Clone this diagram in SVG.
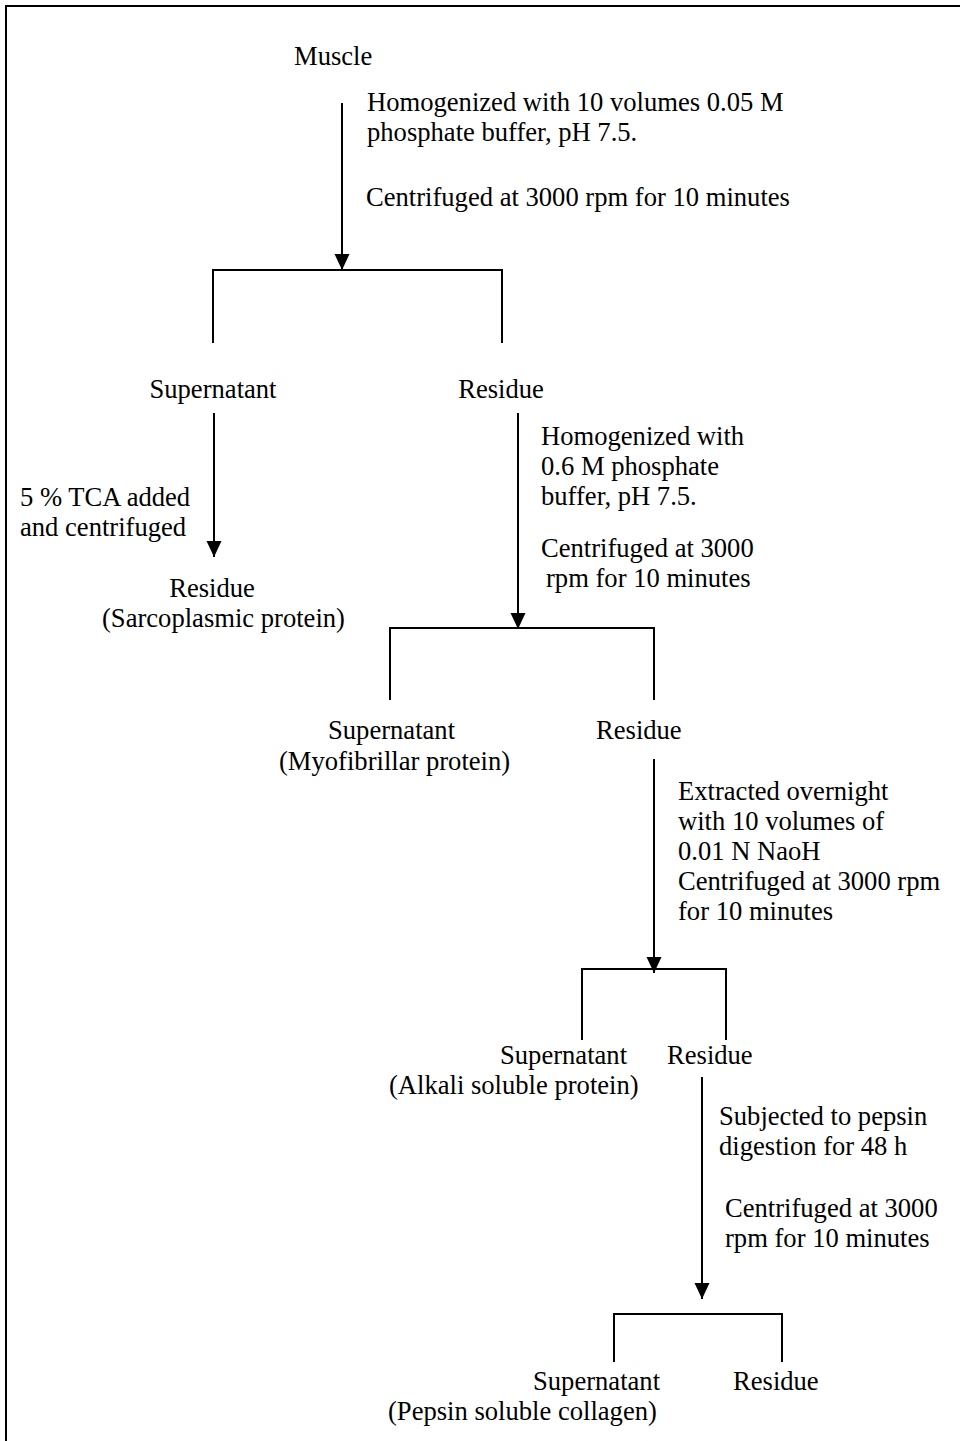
<svg xmlns="http://www.w3.org/2000/svg" width="960" height="1441" viewBox="0 0 960 1441">
<defs>
<marker id="ah" markerUnits="userSpaceOnUse" markerWidth="16" markerHeight="16" viewBox="0 0 16 16" refX="16" refY="8" orient="auto">
<path d="M0,0.5 L16,8 L0,15.5 z" fill="#000"/>
</marker>
<style>
text{font-family:"Liberation Serif","Times New Roman",serif;font-size:26.6px;fill:#000}
.c{text-anchor:middle}
.ln{stroke:#000;stroke-width:2;fill:none}
.ar{stroke:#000;stroke-width:2;fill:none;marker-end:url(#ah)}
</style>
</defs>
<rect width="960" height="1441" fill="#fff"/>
<g id="border">
<path class="ln" d="M6,1441 L6,6 L960,6"/>
</g>
<g id="connectors">
<line class="ar" x1="342" y1="103" x2="342" y2="270"/>
<path class="ln" d="M213,343 L213,270 L502,270 L502,343"/>
<line class="ar" x1="214" y1="413" x2="214" y2="557"/>
<line class="ar" x1="518" y1="413" x2="518" y2="629"/>
<path class="ln" d="M390,700 L390,628 L654,628 L654,700"/>
<line class="ar" x1="654" y1="759" x2="654" y2="973"/>
<path class="ln" d="M582,1040 L582,969 L726,969 L726,1040"/>
<line class="ar" x1="702" y1="1077" x2="702" y2="1299"/>
<path class="ln" d="M614,1362 L614,1314 L782,1314 L782,1362"/>
</g>
<g id="muscle"><text x="294" y="65">Muscle</text></g>
<g id="step1">
<text x="367" y="111">Homogenized with 10 volumes 0.05 M</text>
<text x="367" y="141">phosphate buffer, pH 7.5.</text>
<text x="366" y="206">Centrifuged at 3000 rpm for 10 minutes</text>
</g>
<g id="supernatant1"><text class="c" x="213" y="398">Supernatant</text></g>
<g id="residue1"><text class="c" x="501" y="398">Residue</text></g>
<g id="step-tca">
<text x="20" y="506">5 % TCA added</text>
<text x="20" y="536">and centrifuged</text>
</g>
<g id="sarcoplasmic">
<text class="c" x="212" y="597">Residue</text>
<text x="102" y="627">(Sarcoplasmic protein)</text>
</g>
<g id="step2">
<text x="541" y="445">Homogenized with</text>
<text x="541" y="475">0.6 M phosphate</text>
<text x="541" y="505">buffer, pH 7.5.</text>
<text x="541" y="557">Centrifuged at 3000</text>
<text x="546" y="587">rpm for 10 minutes</text>
</g>
<g id="myofibrillar">
<text x="328" y="739">Supernatant</text>
<text x="279" y="770">(Myofibrillar protein)</text>
</g>
<g id="residue2"><text x="596" y="739">Residue</text></g>
<g id="step3">
<text x="678" y="800">Extracted overnight</text>
<text x="678" y="830">with 10 volumes of</text>
<text x="678" y="860">0.01 N NaoH</text>
<text x="678" y="890">Centrifuged at 3000 rpm</text>
<text x="678" y="920">for 10 minutes</text>
</g>
<g id="alkali">
<text x="500" y="1064">Supernatant</text>
<text x="389" y="1094">(Alkali soluble protein)</text>
</g>
<g id="residue3"><text x="667" y="1064">Residue</text></g>
<g id="step4">
<text x="719" y="1125">Subjected to pepsin</text>
<text x="719" y="1155">digestion for 48 h</text>
<text x="725" y="1217">Centrifuged at 3000</text>
<text x="725" y="1247">rpm for 10 minutes</text>
</g>
<g id="pepsin">
<text x="533" y="1390">Supernatant</text>
<text x="388" y="1420">(Pepsin soluble collagen)</text>
</g>
<g id="residue4"><text x="733" y="1390">Residue</text></g>
</svg>
